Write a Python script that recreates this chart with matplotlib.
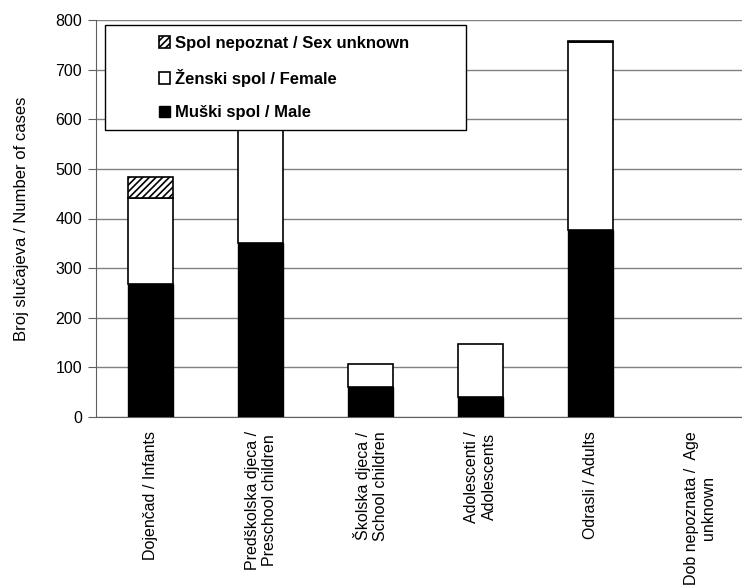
import numpy as np
import matplotlib
matplotlib.use('Agg')
import matplotlib.pyplot as plt
from matplotlib.patches import Rectangle

plt.rcParams['font.family'] = ['Liberation Sans', 'DejaVu Sans']
plt.rcParams['hatch.linewidth'] = 1.2

# podaci
categories = ['Dojenčad / Infants',
              'Predškolska djeca /\nPreschool children',
              'Školska djeca /\nSchool children',
              'Adolescenti /\nAdolescents',
              'Odrasli / Adults',
              'Dob nepoznata /  Age\nunknown']
male = [269, 350, 61, 40, 377, 0]
female = [172, 340, 45, 107, 379, 0]
unknown = [43, 0, 0, 0, 2, 0]
yticks = [0, 100, 200, 300, 400, 500, 600, 700, 800]

fig = plt.figure(figsize=(7.42, 5.86), dpi=100)
ax = fig.add_axes([96 / 742, (586 - 417) / 586, 659 / 742, 397 / 586])

x = np.arange(len(categories))
w = 0.41
male = np.array(male)
female = np.array(female)
unknown = np.array(unknown)

b1 = ax.bar(x, male, w, color='black', edgecolor='black', linewidth=1, zorder=3,
            label='Muški spol / Male')
b2 = ax.bar(x, female, w, bottom=male, color='white', edgecolor='black', linewidth=1.2,
            zorder=3, label='Ženski spol / Female')
b3 = ax.bar(x, unknown, w, bottom=male + female, color='white', edgecolor='black',
            hatch='/////', linewidth=1.2, zorder=3, label='Spol nepoznat / Sex unknown')

# prazni stupci se ne crtaju
for bars in (b1, b2, b3):
    for p in bars.patches:
        if p.get_height() == 0:
            p.set_visible(False)

ax.set_xlim(-0.5, 5.5)
ax.set_ylim(0, 800)
ax.set_yticks(yticks)
ax.yaxis.grid(True, color='#808080', linewidth=1, zorder=0)
ax.set_axisbelow(True)

ax.set_xticks(x)
ax.set_xticklabels(categories, rotation=90, ha='center', va='top', multialignment='center',
                   fontsize=11.5)
ax.tick_params(axis='x', length=0, pad=10)
ax.tick_params(axis='y', length=6, direction='out', color='#606060', labelsize=11.5, pad=4)

for s in ['top', 'right']:
    ax.spines[s].set_visible(False)
ax.spines['left'].set_color('#606060')
ax.spines['bottom'].set_color('#606060')

ax.set_ylabel('Broj slučajeva / Number of cases', fontsize=12)
ax.yaxis.set_label_coords(-0.102, 0.5)

# okvir legende
ax.add_patch(Rectangle((0.0137, 0.723), 0.547, 0.264, transform=ax.transAxes,
                       facecolor='white', edgecolor='black', linewidth=1, zorder=5))

leg = ax.legend(handles=[b3, b2, b1], loc='upper left', bbox_to_anchor=(0.085, 0.977),
                frameon=False, prop={'weight': 'bold', 'size': 12},
                handlelength=0.7, handleheight=0.7, handletextpad=0.25,
                labelspacing=1.1, borderaxespad=0)
leg.set_zorder(6)

fig.savefig('out.png', dpi=100)
